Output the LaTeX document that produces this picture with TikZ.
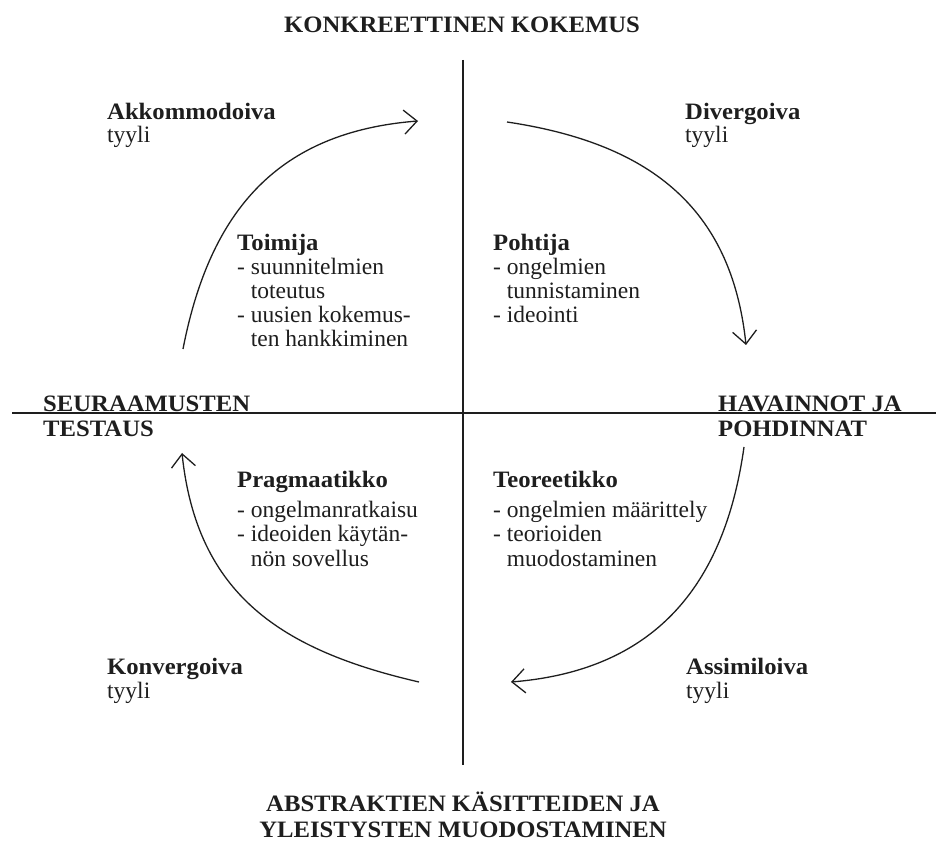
\documentclass[tikz,border=0pt]{standalone}
\usepackage{fontspec}
\setmainfont{Liberation Serif}[BoldFeatures={FakeStretch=1.05}]
\usetikzlibrary{arrows.meta}
\definecolor{ink}{HTML}{1E1E1E}
\begin{document}
\begin{tikzpicture}[x=1pt,y=1pt,
  txt/.style={anchor=base west,inner sep=0pt,text=ink,font=\fontsize{23.5}{24}\selectfont},
  head/.style={txt,font=\fontsize{23.5}{24}\selectfont\bfseries},
  axisline/.style={line width=1.3pt,draw=ink},
  cyclearc/.style={line width=1.3pt,draw=ink,looseness=1.1,
    -{Straight Barb[length=13pt,width=24pt,line width=1.3pt]}}]
\useasboundingbox (0,0) rectangle (936,841);

% axes
\coordinate (vtop) at (463,781);
\coordinate (vbot) at (463,76);
\coordinate (hleft) at (12,428);
\coordinate (hright) at (936,428);
\draw[axisline] (vtop) -- (vbot);
\draw[axisline] (hleft) -- (hright);

% learning cycle: arc end points
\coordinate (tr1) at (507,719);
\coordinate (tr2) at (746,496);
\coordinate (br1) at (744,394);
\coordinate (br2) at (511,159);
\coordinate (bl1) at (419,159);
\coordinate (bl2) at (182,388);
\coordinate (tl1) at (183,492);
\coordinate (tl2) at (418,720);
\draw[cyclearc] (tr1) to[out=-8.5,in=96] (tr2);
\draw[cyclearc] (br1) to[out=-98,in=4.6] (br2);
\draw[cyclearc] (bl1) to[out=167,in=-84] (bl2);
\draw[cyclearc] (tl1) to[out=79,in=184.5] (tl2);

% pole labels
\node[head,anchor=base] (konk) at (462,808) {KONKREETTINEN KOKEMUS};
\node[head] (seur1) at (43,429) {SEURAAMUSTEN};
\node[head] (seur2) at (43,404) {TESTAUS};
\node[head] (hav1) at (718,429) {HAVAINNOT JA};
\node[head] (hav2) at (718,404) {POHDINNAT};
\node[head,anchor=base] (abs1) at (463,30) {ABSTRAKTIEN KÄSITTEIDEN JA};
\node[head,anchor=base] (abs2) at (463,4) {YLEISTYSTEN MUODOSTAMINEN};

% learning styles
\node[head] (akk) at (107,721) {Akkommodoiva};
\node[txt]  (akkt) at (107,698) {tyyli};
\node[head] (div) at (685,721) {Divergoiva};
\node[txt]  (divt) at (685,698) {tyyli};
\node[head] (konv) at (107,167) {Konvergoiva};
\node[txt]  (konvt) at (107,143) {tyyli};
\node[head] (ass) at (686,167) {Assimiloiva};
\node[txt]  (asst) at (686,143) {tyyli};

% roles
\node[head] (toi) at (237,590) {Toimija};
\node[txt]  (toi1) at (237,566) {- suunnitelmien};
\node[txt]  (toi2) at (237,542) {\hphantom{-} toteutus};
\node[txt]  (toi3) at (237,518) {- uusien kokemus-};
\node[txt]  (toi4) at (237,494) {\hphantom{-} ten hankkiminen};

\node[head] (poh) at (493,590) {Pohtija};
\node[txt]  (poh1) at (493,566) {- ongelmien};
\node[txt]  (poh2) at (493,542) {\hphantom{-} tunnistaminen};
\node[txt]  (poh3) at (493,518) {- ideointi};

\node[head] (pra) at (237,353) {Pragmaatikko};
\node[txt]  (pra1) at (237,323) {- ongelmanratkaisu};
\node[txt]  (pra2) at (237,299) {- ideoiden käytän-};
\node[txt]  (pra3) at (237,275) {\hphantom{-} nön sovellus};

\node[head] (teo) at (493,353) {Teoreetikko};
\node[txt]  (teo1) at (493,323) {- ongelmien määrittely};
\node[txt]  (teo2) at (493,299) {- teorioiden};
\node[txt]  (teo3) at (493,275) {\hphantom{-} muodostaminen};
\end{tikzpicture}
\end{document}
